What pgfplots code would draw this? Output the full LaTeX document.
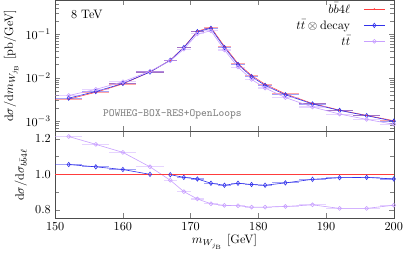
\documentclass[border=0pt]{standalone}
\usepackage{pgfplots}
\usepackage{pgfplotstable}
\pgfplotsset{compat=1.18}
\definecolor{cred}{RGB}{255,60,60}
\definecolor{cblue}{RGB}{50,50,235}
\definecolor{cviol}{RGB}{200,160,255}
\pgfplotstableread{
x hw red blue pink rb rp rr
152 2 3.21e-3 3.39e-3 3.89e-3 1.055 1.212 1
156 2 4.61e-3 4.80e-3 5.38e-3 1.042 1.168 1
160 2 7.17e-3 7.36e-3 8.05e-3 1.027 1.123 1
164 2 1.35e-2 1.35e-2 1.41e-2 1.000 1.042 1
167 1 2.52e-2 2.51e-2 2.44e-2 0.998 0.967 1
169 1 5.00e-2 4.92e-2 4.52e-2 0.983 0.903 1
171 1 0.117 0.114 0.101 0.974 0.862 1
173 1 0.143 0.136 0.119 0.950 0.835 1
175 1 5.24e-2 4.92e-2 4.33e-2 0.939 0.826 1
177 1 2.12e-2 2.01e-2 1.75e-2 0.950 0.824 1
179 1 1.12e-2 1.06e-2 9.14e-3 0.943 0.816 1
181 1 7.08e-3 6.65e-3 5.78e-3 0.939 0.816 1
184 2 4.25e-3 4.05e-3 3.49e-3 0.952 0.820 1
188 2 2.56e-3 2.49e-3 2.12e-3 0.972 0.829 1
192 2 1.80e-3 1.77e-3 1.46e-3 0.981 0.809 1
196 2 1.36e-3 1.34e-3 1.10e-3 0.983 0.809 1
200 2 1.03e-3 1.00e-3 8.5e-4 0.974 0.827 1
}\data
\pgfplotsset{
  myerr/.style={error bars/.cd, x dir=both, x explicit, error mark=none,
    error bar style={line width=0.9pt,opacity=0.45}},
}
\begin{document}
\begin{tikzpicture}
\begin{axis}[
  name=top,
  scale only axis, width=276bp, height=107bp,
  xmin=150, xmax=200, ymode=log, ymin=5.8e-4, ymax=0.6,
  xticklabels={}, xtick={150,160,...,200},
  tick align=inside, axis line style={gray!60!black},
  ylabel={$\mathrm{d}\sigma/\mathrm{d}m_{W_{j_{\mathrm{B}}}}$ [pb/GeV]},
  ylabel style={yshift=-1pt},
  legend cell align=right, legend plot pos=right,
  legend style={draw=none, fill=none, at={(0.975,0.99)}, anchor=north east,
    row sep=2pt, inner sep=0pt, nodes={inner sep=1pt}},
  legend image code/.code={\path (0cm,0cm) (0.95cm,0cm); \draw[#1, line width=0.4pt] (0.35cm,0cm) -- (0.95cm,0cm); \draw[#1, only marks] plot coordinates {(0.65cm,0cm)};},
]
\addplot[cred, line width=0.4pt, mark=*, mark size=0.4pt, myerr] table[x=x,y=red,x error=hw]{\data};
\addlegendentry{$b\bar{b}4\ell$}
\addplot[cblue, line width=0.5pt, mark=diamond, mark size=1.8pt, mark options={solid, line width=0.5pt}, myerr] table[x=x,y=blue,x error=hw]{\data};
\addlegendentry{$t\bar{t}\otimes\mathrm{decay}$}
\addplot[cviol, line width=0.5pt, mark=o, mark size=1.6pt, myerr] table[x=x,y=pink,x error=hw]{\data};
\addlegendentry{$t\bar{t}$}
\node[anchor=west] at (axis cs:151.7,0.29) {8 TeV};
\node[text=gray, font=\ttfamily\small] at (axis cs:167.3,1.46e-3) {POWHEG-BOX-RES+OpenLoops};
\end{axis}
\begin{axis}[
  at={(top.south west)}, anchor=north west,
  scale only axis, width=276bp, height=70.4bp,
  xmin=150, xmax=200, ymin=0.756, ymax=1.24,
  xtick={150,160,...,200}, ytick={0.8,1.0,1.2}, minor ytick={0.9,1.1},
  yticklabel style={/pgf/number format/.cd, fixed, fixed zerofill, precision=1},
  tick align=inside, axis line style={gray!60!black},
  xlabel={$m_{W_{j_{\mathrm{B}}}}$ [GeV]},
  ylabel={$\mathrm{d}\sigma/\mathrm{d}\sigma_{b\bar{b}4\ell}$},
  xlabel style={yshift=3pt},
]
\addplot[cviol, line width=0.5pt, mark=o, mark size=1.6pt, myerr] table[x=x,y=rp,x error=hw]{\data};
\addplot[cblue, line width=0.5pt, mark=diamond, mark size=1.8pt, mark options={solid, line width=0.5pt}, myerr] table[x=x,y=rb,x error=hw]{\data};
\addplot[cred, line width=1pt, mark=none] table[x=x,y=rr]{\data};
\addplot[cred, line width=1pt, mark=none] coordinates {(150,1) (202,1)};
\end{axis}
\end{tikzpicture}
\end{document}
